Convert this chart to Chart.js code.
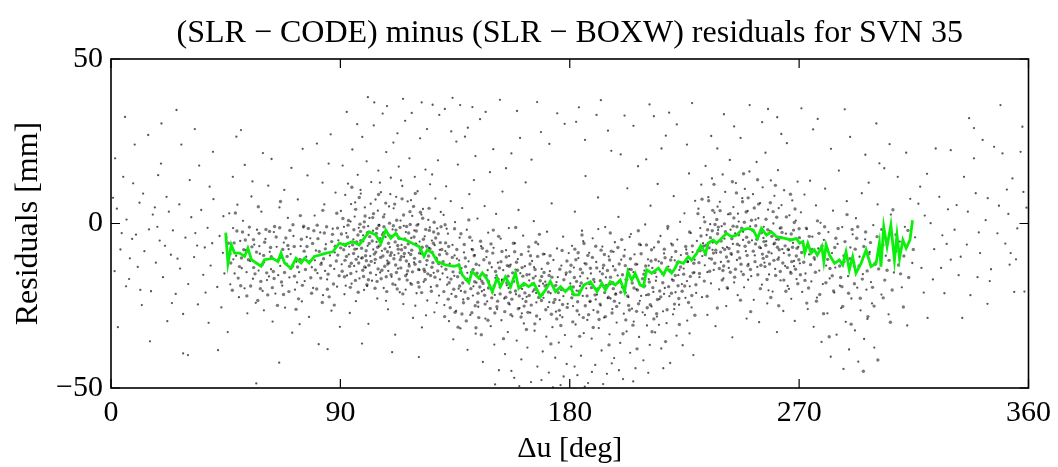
<!DOCTYPE html>
<html><head><meta charset="utf-8">
<script src="https://cdn.jsdelivr.net/npm/chart.js@4/dist/chart.umd.min.js"></script>
<style>html,body{margin:0;padding:0;background:#fff;overflow:hidden}#wrap{width:1058px;height:467px;position:relative}</style>
</head><body><div id="wrap"><canvas id="c" width="1058" height="467"></canvas></div>
<script>
// ---------- text ----------
const chartTitle = '(SLR \u2212 CODE) minus (SLR \u2212 BOXW) residuals for SVN 35';
const xAxisTitle = '\u0394u [deg]';
const yAxisTitle = 'Residuals [mm]';

// ---------- ticks ----------
const xTickValues = [0, 90, 180, 270, 360];
const xTickLabels = ['0', '90', '180', '270', '360'];
const yTickValues = [-50, 0, 50];
const yTickLabels = ['\u221250', '0', '50'];

// ---------- green mean line (deg, mm) ----------
const lineDeg = [45,45.9,47.2,48.5,50.5,52.4,53.7,55.1,57,58.9,60.2,63.5,65.5,66.7,68.1,70.6,72.6,74.6,75.9,77.8,79.8,81.8,84.4,87,89.6,91.5,94.8,97.4,101.3,103.9,105.9,107.8,109.8,111.7,113.1,115.7,118.2,120.9,122.8,124.1,126.1,128,131.3,134.6,136.5,137.8,140.4,141.7,144.3,145.7,147.6,149.6,151.5,152.8,154.8,156.8,158.7,160,162,163.9,165.9,167.2,168.5,170.5,172.4,174.4,176.4,178.3,180.3,181.6,183.5,185.5,188.1,190.7,192.6,194,195.9,197.9,199.8,201.5,202.8,204.3,205.7,207.6,208.9,210.2,212.2,214.8,216.8,218,220,221.3,222.6,224.6,226.5,227.8,229.8,231.4,233.3,234.3,236.3,237.6,239.6,241.5,243.5,245.5,247.4,250,252,253.7,255.2,257.2,259.1,261.1,264.4,267,268.9,270.2,271.5,272.2,273.4,274.7,276,277.1,278.9,279.7,280.6,281.9,283.9,285.8,287.1,288.4,289.7,291,292.3,294.3,296.3,298.2,300.2,301.5,302.1,303.2,304.5,306,307.4,308.4,309.4,310.7,312,313.5,314.5];
const lineRes = [-2.8,-12.1,-6.5,-9,-9,-10,-7.5,-11,-12,-13,-11,-10.6,-11.6,-9,-12,-13.6,-10.6,-12,-10.6,-12,-10,-9.6,-9,-8.6,-6,-6.5,-5.5,-6.5,-2.5,-3.5,-6,-2,-4.5,-3,-4.5,-5,-6,-7,-10,-8,-9,-11.6,-12.6,-13,-12.6,-15.6,-18,-14.6,-16.6,-15,-17,-20.7,-16.6,-19.2,-16.2,-19.2,-15,-19.7,-18.2,-19.2,-18.2,-20.2,-22.2,-20.2,-17.6,-20.7,-19.2,-20.7,-19.2,-21.7,-21.7,-18.7,-17.7,-20.7,-18.2,-20.2,-17.7,-18.7,-17.2,-20.7,-14.6,-17.2,-15.2,-18.7,-19.2,-14.1,-15.1,-13.6,-15.6,-13.6,-15.1,-13.6,-11.6,-12.1,-10.1,-11.1,-9.1,-6.8,-9.1,-6,-5,-6,-4.5,-3,-4,-3.5,-2,-1.5,-2,-4.5,-1.5,-3.5,-2.5,-4,-4.5,-5,-4.5,-6,-5.5,-9,-6,-9,-8,-9.6,-7,-11.6,-6.5,-9.6,-12.1,-11.1,-12.6,-8.6,-14.1,-10.1,-15.1,-12.1,-8,-13.1,-12.1,-6,-13.1,-1,-7,-0.5,-11.1,-3.5,-10.6,-5,-7.5,-5,1];

// ---------- scatter residuals, flat [deg, mm, deg, mm, ...] ----------
const dots000to045 = [5.5,32.4,25.7,34.5,19.8,30.4,14.6,26.9,32.9,28.7,27.6,24,1.6,19.8,4.8,14.2,8.7,12.2,18.5,14.7,21.8,8.1,38.7,11.2,30.9,13.2,12.6,9.1,2.3,4.5,6.1,1.2,9.8,-3.4,11.2,6.3,14.9,-1.8,16.4,2.7,19.1,-5.2,22.7,3.6,24.3,-2.1,26.8,5.8,29.2,-4.3,31.5,1.9,33.8,-6.7,35.4,4.1,37.9,-1.3,40.2,7.4,42.6,-3.8,44.1,2.2,3.7,-7.9,7.4,-10.6,10.5,-13.2,13.1,-8.4,17.6,-11.9,20.4,-16.3,23.5,-9.5,27.1,-13.7,30.3,-18.4,32.6,-10.2,36.2,-15.6,39.1,-12.8,41.7,-19.3,43.9,-8.9,1.4,-14.5,5.9,-19.1,8.3,-4.7,15.7,-20.6,21.2,-6.8,25.4,-21.4,28.3,-27.5,30.2,-40,28.3,-39.5,34.1,-24.6,38.3,-30.2,42,-38.5,12.1,-24.8,4.2,-2.9,18.2,-1.0,36.8,-7.3,40,21.8,2.7,-31.5,9.3,24.0,15.3,-35.8,22.1,-29.7,34.6,17.6,43.3,-25.5,11.5,-20.2,19.6,18.2,26.1,-10.7,33.1,-2.9,39.7,-6.0,17.2,4.9,7.1,-16.9,0.8,7.8,23.9,-24.2,37.1,-21.0,44.5,-15.2];
const dots045to090 = [49.2,26.4,51,28.4,59.6,21.4,47.8,14.2,57,-48.6,45.3,-4.2,45.9,-12.7,46.4,3.1,46.8,-18.5,47.3,-7.6,47.9,-1.4,48.5,-15.2,49.1,-9.8,49.6,5.7,50.2,-22.4,50.7,-5.3,51.3,-13.6,51.8,0.8,52.4,-19.7,52.9,-8.1,53.5,-27.3,54.0,-3.5,54.6,-11.4,55.1,8.2,55.7,-16.8,56.2,-6.4,56.8,-24.1,57.3,-1.9,57.9,-14.3,58.4,-9.2,59.0,3.6,59.5,-20.5,60.1,-11.8,60.6,-4.7,61.2,-17.2,61.7,11.5,62.3,-8.6,62.8,-13.9,63.4,-29.8,63.9,-2.6,64.5,-21.3,65.0,-7.1,65.6,-15.7,66.1,4.9,66.7,-10.4,67.2,-18.9,67.8,-5.8,68.3,-25.6,68.9,-12.2,69.4,1.7,70.0,-16.4,70.5,-9.3,71.1,-33.2,71.6,-3.8,72.2,-20.1,72.7,-11.6,73.3,7.3,73.8,-14.8,74.4,-6.9,74.9,-23.7,75.5,-1.2,76.0,-17.5,76.6,-10.1,77.1,14.6,77.7,-28.4,78.2,-4.5,78.8,-13.3,79.3,-19.6,79.9,2.4,80.4,-8.2,81.0,-15.1,81.5,-36.7,82.1,-2.7,82.6,-11.9,83.2,-21.8,83.7,5.8,84.3,-6.3,84.8,-17.0,85.4,18.2,85.9,-9.7,86.5,-26.5,87.0,-1.6,87.6,-13.8,88.1,9.4,88.7,-19.2,89.2,-5.1,89.8,-31.4,52.5,17.8,63.0,19.6,70.8,16.9,75.2,22.7,80.8,24.3,86.2,27.1,55.5,12.8,68.0,10.2,83.0,12.4,48.0,-10.9,53.2,-14.8,58.2,-6.9,62.0,-16.1,66.4,-12.9,69.7,-7.8,73.0,-17.9,76.8,-4.1,80.0,-11.2,84.0,-14.4,87.8,-8.8,60.0,-26.4,74.0,-30.6,85.0,-38.2,66.0,-42.3,45.8,-33.0];
const core045to090 = [46.7,-9.3,58.1,-3.0,49.9,-16.6,71.3,-12.9,64.2,-0.9,80.7,-19.9,53.9,-11.0,86.9,-3.3,75.8,-8.4,61.5,-21.7,68.6,-4.4,83.4,-10.7,47.6,-20.3,56.5,-15.3,77.4,-1.5,89.5,-15.9,62.6,-7.3,73.6,-22.9,51.6,-2.6,85.6,-22.3,66.9,-17.8,59.3,-12.5,79.1,-6.1,88.4,-11.4,54.8,-19.0,70.2,-2.1,82.3,-16.6,63.7,-14.6,48.3,-5.9,76.3,-14.0,57.6,-23.4,69.1,-10.0,84.6,-1.0,52.1,-8.0,74.7,-4.8,87.3,-18.4,60.8,-1.8,65.3,-24.9,81.2,-4.6,55.9,-4.9,72.0,-16.0,78.7,-21.2,50.4,-13.1,67.4,-7.9,84.1,-7.7,58.8,-17.6,62.9,-10.1,88.9,-1.4,46.1,-6.0,71.9,-7.0,80.2,-14.1,53.3,-22.0,75.1,-18.8,64.8,-4.1,86.1,-12.8,49.4,-2.3,69.8,-20.7,57.1,-8.7,82.9,-24.0,61.1,-15.0,77.9,-11.6,66.2,-1.3,73.2,-13.2,88.0,-6.9,54.3,-1.1,79.6,-2.2,59.9,-9.7,84.9,-20.0,68.1,-14.9,50.9,-18.9,76.9,-7.0,63.3,-19.5,71.4,-0.4,87.6,-24.8,56.0,-13.4,81.7,-8.5,65.8,-11.0,47.0,-12.0,74.2,-10.9,60.3,-5.7,85.2,-15.4,52.7,-5.0,78.4,-16.5,69.4,-6.7,83.7,-2.9,62.2,-2.4,72.6,-26.1,89.0,-9.6,55.3,-7.1,67.7,-21.6,80.9,-0.5,58.6,-19.8,75.6,-0.8,86.6,-5.5,64.0,-16.7,51.2,-10.5,70.5,-13.6,82.4,-12.4,48.8,3.2,57.8,5.1,66.5,6.7,74.3,2.4,83.1,4.0,88.6,3.1];
const dots090to130 = [90.2,3.8,90.5,-12.4,90.9,17.6,91.2,-6.2,91.6,-21.5,91.9,8.7,92.3,-2.9,92.6,-15.8,93.0,12.1,93.3,-9.4,93.7,-27.2,94.0,0.6,94.4,-18.3,94.7,22.5,95.1,-4.8,95.4,-12.9,95.8,6.4,96.1,-23.6,96.5,-7.7,96.8,14.8,97.2,-1.3,97.5,-16.7,97.9,10.2,98.2,-10.6,98.6,26.3,98.9,-3.6,99.3,-20.2,99.6,4.9,100.0,-13.4,100.3,18.9,100.7,-6.8,101.0,-30.5,101.4,1.7,101.7,-9.9,102.1,12.6,102.4,-17.4,102.8,-2.2,103.1,29.8,103.5,-12.0,103.8,7.3,104.2,-5.6,104.5,-22.8,104.9,16.1,105.2,-0.4,105.6,-14.9,105.9,9.5,106.3,-8.3,106.6,33.4,107.0,-19.6,107.3,2.8,107.7,-4.1,108.0,21.7,108.4,-11.3,108.7,-26.1,109.1,5.2,109.4,-7.2,109.8,13.9,110.1,-16.2,110.5,-1.8,110.8,24.6,111.2,-9.6,111.5,-33.8,111.9,8.1,112.2,-3.3,112.6,-13.7,112.9,17.3,113.3,-20.9,113.6,0.9,114.0,-6.5,114.3,11.4,114.7,-24.5,115.0,-10.1,115.4,31.2,115.7,-2.6,116.1,-15.4,116.4,6.7,116.8,-8.9,117.1,19.8,117.5,-18.1,117.8,-4.4,118.2,2.3,118.5,-28.7,118.9,-11.8,119.2,14.2,119.6,-6.1,119.9,-21.2,120.3,9.8,120.6,-0.2,121.0,-14.1,121.3,25.9,121.7,-9.2,122.0,-31.6,122.4,4.4,122.7,-17.7,123.1,-3.9,123.4,16.4,123.8,-12.6,124.1,-23.4,124.5,1.1,124.8,-7.4,125.2,11.9,125.5,-19.3,125.9,-5.2,126.2,36.1,126.6,-15.0,126.9,-27.0,127.3,7.6,127.6,-10.4,128.0,-1.5,128.3,19.2,128.7,-21.9,129.0,-8.0,129.4,3.5,129.7,-13.1,91.4,-1.0,93.5,-7.0,95.6,2.1,97.0,-10.1,99.0,-5.4,100.9,-0.8,102.9,-7.9,104.7,3.9,106.8,-2.7,108.8,-14.4,110.9,4.6,112.8,-9.1,114.9,-0.7,116.9,-12.3,119.0,-2.1,121.1,-5.5,123.0,-9.8,125.1,-1.2,127.0,-6.6,129.1,-17.0,92.1,-18.9,96.3,-14.6,100.5,-19.0,104.0,-15.6,107.9,-23.5,111.6,-18.7,115.6,-20.1,119.4,-25.0,123.6,-27.9,127.8,-24.1,94.2,5.9,98.0,9.1,101.9,6.0,105.5,12.4,109.6,8.9,113.8,13.1,117.7,7.1,121.8,2.7,126.0,14.9,98.5,-36.5,110.3,-39.1,120.8,-40.6,103.3,36.8,118.0,33.6,124.0,28.7,112.4,27.4,96.6,30.2,92.5,33.9,100.8,38.4,108.3,35.7,114.6,37.9,121.9,36.8,128.8,33.0];
const core090to130 = [92.8,-4.1,107.4,-13.0,99.7,2.3,121.6,-8.2,113.1,-16.9,95.2,-9.1,126.8,0.4,103.6,-19.7,118.7,5.2,90.7,-14.5,110.2,-3.9,124.3,-15.3,97.7,-0.2,115.9,-11.4,105.0,8.8,128.9,-9.5,93.9,-19.4,119.8,-2.3,101.2,-12.7,112.1,1.0,125.7,-20.6,96.0,4.3,108.5,-8.6,122.8,-13.9,91.3,-8.0,116.6,-6.2,104.3,-1.5,127.4,-4.4,99.1,-16.1,114.5,-21.4,94.5,11.0,111.0,-10.7,120.5,-17.9,102.5,-5.3,129.5,-1.0,106.0,-16.8,117.3,3.6,98.3,-7.5,123.9,-6.9,109.3,0.1,91.8,-11.2,113.7,-13.5,126.3,-11.9,100.6,-2.8,119.1,-10.6,95.9,-17.3,107.8,6.2,121.9,-21.0,103.0,3.0,115.3,-4.7,128.2,-14.4,93.2,0.9,110.6,-18.4,97.2,-12.0,124.8,4.6,105.8,-10.3,118.3,-14.7,90.4,-3.2,112.7,-7.8,101.8,-15.0,127.9,-18.9,94.8,-6.5,116.0,-0.9,108.9,-6.0,122.3,1.6,99.9,-9.8,114.2,7.5,125.2,-7.7,96.9,-3.5,111.7,-12.6,120.1,-0.5,103.9,-8.7,91.0,1.5,117.9,-18.5,106.5,-3.4,129.2,-5.8,98.8,-14.2,113.4,-1.2,123.3,-17.0,92.4,-10.0,109.9,-15.6,119.4,9.1,102.1,-11.5,126.6,-2.6,95.3,-1.9,115.1,-9.1,104.8,-13.8,121.2,-11.6,97.4,7.9,110.0,-8.9,128.6,-12.2,100.4,-18.6,116.8,-2.9,93.6,-13.0,107.1,-1.0,124.6,-9.9,112.3,-19.9,99.4,0.5,118.0,-8.1,105.3,-6.8,122.6,-4.8,90.1,-7.4,114.8,2.6,127.1,-16.3,101.5,-4.0,109.0,-11.9,120.7,-14.0,96.2,-10.9,111.3,5.9,125.9,-13.3,104.4,-17.6,117.0,-12.9,94.1,-15.2,108.2,-20.7,123.5,-1.8,98.0,-5.2,113.0,-4.5,129.8,-7.9,102.7,1.8,119.6,-6.4,106.3,-14.2,91.6,-16.2,115.6,-15.9,126.0,-8.7,100.1,-8.3,110.8,-0.7,121.4,3.4,97.0,-20.9,105.6,-4.6,117.6,-9.4,93.0,-0.5,112.0,-14.9,124.0,-11.2,103.3,-9.3,128.4,-3.1,99.5,-13.2,114.0,-8.0,108.0,-16.2,120.9,-19.3,95.7,-7.8,116.2,-17.2,106.9,2.0,125.4,-15.8,101.0,-17.1,118.9,-4.1,92.0,-6.7,111.5,-5.6,122.1,-7.2,104.1,-3.0,127.7,-10.8,98.6,-10.4,113.9,-10.1,109.6,-9.7,97.9,-2.4,103.7,-10.9,107.5,-7.7,115.4,-7.3,119.3,-12.4,111.8,-2.0,105.1,-0.6,101.3,-6.1,123.1,-14.6,94.3,-12.1,117.4,-0.3,126.5,-6.0,109.1,-3.6,113.5,-11.0,99.2,-1.1,121.0,-9.0,96.4,-5.6,108.6,-12.3,104.6,-7.2,116.4,-14.4,100.2,-11.3,112.5,-6.7,124.9,-2.1,106.7,-9.9];
const dots130to180 = [130.1,-15.2,130.5,2.6,130.8,-24.8,131.2,-8.4,131.5,11.3,131.9,-18.6,132.2,-3.1,132.6,-29.7,132.9,-12.2,133.3,6.8,133.6,-21.4,134.0,-6.5,134.3,-35.2,134.7,-15.9,135.0,0.4,135.4,-26.6,135.7,-10.7,136.1,17.9,136.4,-19.8,136.8,-4.3,137.1,-31.9,137.5,-13.6,137.8,4.7,138.2,-23.1,138.5,-8.8,138.9,26.4,139.2,-17.2,139.6,-1.9,139.9,-38.4,140.3,-11.5,140.6,8.9,141.0,-27.8,141.3,-14.8,141.7,-5.2,142.0,-21.9,142.4,13.2,142.7,-9.6,143.1,-33.5,143.4,-18.0,143.8,1.5,144.1,-25.3,144.5,-12.7,144.8,31.7,145.2,-6.9,145.5,-20.6,145.9,-42.1,146.2,-15.4,146.6,5.3,146.9,-28.9,147.3,-10.2,147.6,-23.7,148.0,-2.8,148.3,-17.6,148.7,15.6,149.0,-31.2,149.4,-13.3,149.7,-21.0,150.1,-7.4,150.4,-36.8,150.8,-16.5,151.1,2.9,151.5,-26.0,151.8,-11.9,152.2,-44.6,152.5,-19.4,152.9,-4.6,153.2,-29.4,153.6,9.7,153.9,-14.2,154.3,-22.8,154.6,-39.7,155.0,-8.1,155.3,-18.8,155.7,-33.0,156.1,-1.4,156.4,-24.6,156.8,-12.5,157.1,21.3,157.5,-28.2,157.8,-16.8,158.2,-46.9,158.5,-6.0,158.9,-21.5,159.2,-35.6,159.6,-10.8,159.9,4.1,160.3,-25.7,160.6,-15.1,161.0,-41.3,161.3,-19.9,161.7,-3.7,162.0,-30.4,162.4,-13.0,162.7,12.5,163.1,-22.3,163.4,-37.7,163.8,-8.5,164.1,-17.3,164.5,-27.1,164.8,-48.2,165.2,-11.4,165.5,-20.7,165.9,0.7,166.2,-32.6,166.6,-16.0,166.9,-24.0,167.3,-43.5,167.6,-6.3,168.0,-19.0,168.3,-29.1,168.7,27.8,169.0,-13.8,169.4,-38.9,169.7,-22.6,170.1,-9.3,170.4,-17.7,170.8,-34.4,171.1,-2.5,171.5,-25.4,171.8,-45.3,172.2,-14.5,172.5,-21.2,172.9,6.1,173.2,-31.5,173.6,-11.1,173.9,-19.5,174.3,-40.8,174.6,-26.8,175.0,-7.6,175.3,-16.3,175.7,-36.2,176.0,-23.3,176.4,-49.1,176.7,-12.8,177.1,-28.5,177.4,-4.0,177.8,-20.3,178.1,-33.9,178.5,-15.6,178.8,-42.7,179.2,-24.4,179.6,-9.0,131.0,34.8,135.5,24.9,140.0,29.1,147.0,33.9,150.0,22.6,155.0,16.8,160.5,26.0,165.0,19.4,172.0,24.2,178.0,30.3,143.0,20.5,137.0,36.0,133.5,28.0,132.0,-16.4,134.8,-9.7,137.3,-20.5,139.8,-15.0,142.2,-19.1,144.9,-16.9,147.8,-14.2,150.6,-21.7,153.4,-17.1,156.0,-19.6,158.7,-14.0,161.5,-22.9,164.2,-15.5,166.8,-21.1,169.5,-18.3,172.0,-23.9,174.8,-17.8,177.5,-22.1,131.7,-1.6,136.6,-11.2,141.5,-7.8,146.4,-20.2,151.2,-15.8,156.2,-9.9,161.2,-27.3,166.0,-13.3,171.0,-18.6,176.2,-27.9,134.0,38.2,141.8,35.4,152.6,37.6,159.3,34.2,167.2,36.9,175.1,33.5,160.2,-49.4,168.9,-47.6,177.6,-46.5,157.1,-44.8,150.7,-48.9,173.4,-49.8];
const core130to180 = [131.4,-13.9,146.8,-24.5,138.6,-6.4,161.9,-18.7,153.0,-11.6,135.3,-22.2,167.0,-28.1,143.6,-15.1,158.4,-8.6,130.6,-20.7,150.3,-19.0,164.4,-12.3,137.7,-27.5,155.8,-16.0,145.0,-5.4,169.2,-21.6,133.9,-10.3,159.8,-25.9,141.2,-19.8,152.1,-3.9,165.7,-16.6,136.0,-16.2,148.5,-12.0,162.8,-23.7,131.3,-5.9,156.6,-20.9,144.3,-28.6,167.4,-10.0,139.1,-13.1,154.5,-26.8,134.8,-1.6,150.9,-14.6,160.5,-19.4,142.5,-9.8,169.9,-14.9,146.0,-18.2,157.3,-23.0,138.3,-24.1,163.9,-7.1,132.7,-18.0,149.4,-22.6,166.1,-20.1,140.8,-4.2,155.1,-10.2,136.5,-12.6,161.3,-13.4,147.9,-29.4,170.6,-26.2,144.0,-21.2,158.0,-17.6,133.1,-25.6,152.7,-21.4,164.9,-24.8,139.7,-16.9,149.8,-9.0,168.4,-17.4,142.9,-25.0,156.3,-13.0,135.7,-7.9,160.9,-28.4,146.3,-11.0,153.7,-17.3,166.7,-5.7,130.9,-28.3,151.4,-25.3,163.2,-15.6,140.1,-22.8,157.9,-6.0,145.5,-17.5,169.6,-9.3,134.2,-14.7,148.1,-19.6,162.4,-21.1,137.3,-3.1,154.9,-22.4,143.3,-12.4,159.1,-11.8,132.3,-23.0,150.6,-27.2,165.3,-18.4,141.9,-8.0,156.9,-27.7,136.8,-19.0,161.6,-16.0,147.2,-15.9,168.9,-23.4,139.4,-29.6,153.4,-8.5,133.4,-16.9,158.7,-20.5,145.7,-7.5,163.6,-27.0,131.8,-9.2,151.9,-16.9,166.4,-14.0,143.9,-23.9,155.5,-12.8,138.0,-18.1,160.2,-22.0,148.8,-25.8,170.3,-19.0,135.0,-27.0,157.6,-15.0,142.1,-14.0,164.6,-9.8,146.6,-21.8,152.4,-13.5,139.0,-10.5,162.1,-25.1,134.5,-20.0,149.1,-6.2,167.8,-22.5,144.7,-19.3,156.0,-24.2,137.0,-14.9,159.5,-14.2,171.4,-12.1,174.2,-23.1,177.7,-17.1,172.8,-27.6,176.1,-13.9,179.0,-25.5,173.0,-16.3,175.5,-21.0,178.9,-11.4,171.6,-20.8,174.9,-29.0,177.2,-24.6,179.9,-19.6,172.3,-9.8,176.8,-20.1,173.7,-24.0,178.6,-15.0,175.9,-26.4,171.9,-15.8,177.0,-8.2,174.5,-18.8,131.1,-0.4,140.4,1.1,150.0,-2.0,158.8,-1.2,168.1,-3.3,136.2,-31.5,145.3,-33.8,154.0,-35.0,163.0,-32.2,172.6,-36.6,141.6,-27.1,166.3,-30.5,130.3,-11.6,138.9,-20.8,147.5,-8.4,155.3,-18.0,164.1,-21.9,132.5,-7.0,142.7,-17.7,151.7,-23.6,161.0,-9.4,169.0,-16.1,176.5,-31.0,143.2,-31.7];
const dots180to230 = [180.2,-18.2,180.6,-37.4,180.9,-6.8,181.3,-25.1,181.6,-13.4,182.0,3.6,182.3,-30.7,182.7,-20.4,183.0,-46.1,183.4,-10.5,183.7,-27.7,184.1,-16.1,184.4,-40.2,184.8,-2.2,185.1,-22.0,185.5,-33.3,185.8,-12.1,186.2,14.4,186.5,-19.7,186.9,-29.3,187.2,-48.5,187.6,-8.9,187.9,-23.8,188.3,-15.2,188.6,-35.0,189.0,-4.5,189.3,-26.3,189.7,-17.8,190.0,-43.0,190.4,-11.7,190.7,-21.6,191.1,7.9,191.4,-31.8,191.8,-14.6,192.1,-24.9,192.5,-38.6,192.8,-7.0,193.2,-19.2,193.5,-28.6,193.9,-1.1,194.2,-16.4,194.6,-45.7,194.9,-22.7,195.3,-10.0,195.6,-33.7,196.0,-18.5,196.3,22.1,196.7,-26.0,197.0,-13.0,197.4,-40.9,197.7,-5.7,198.1,-21.3,198.4,-30.1,198.8,-15.8,199.1,2.0,199.5,-24.2,199.8,-36.3,200.2,-11.0,200.5,-19.4,200.9,-47.3,201.2,-27.4,201.6,-8.0,201.9,-17.1,202.3,-32.8,202.6,10.7,203.0,-22.4,203.3,-13.9,203.7,-39.3,204.0,-3.2,204.4,-25.9,204.7,-16.6,205.1,-29.8,205.4,-9.4,205.8,-44.0,206.1,-20.0,206.5,-12.4,206.8,17.4,207.2,-34.5,207.5,-23.5,207.9,-6.6,208.2,-18.8,208.6,-27.0,208.9,-41.6,209.3,-14.3,209.6,-0.3,210.0,-21.8,210.3,-31.0,210.7,-10.9,211.0,-16.9,211.4,-36.9,211.7,5.4,212.1,-25.2,212.4,-13.5,212.8,-20.8,213.1,-7.3,213.5,-33.1,213.8,-17.4,214.2,-28.3,214.5,12.0,214.9,-11.5,215.2,-23.0,215.6,-3.8,215.9,-38.0,216.3,-15.3,216.6,-26.7,217.0,-9.1,217.3,-19.6,217.7,26.7,218.0,-30.3,218.4,-1.6,218.7,-13.1,219.1,-22.1,219.4,-42.4,219.8,-6.1,220.1,-17.0,220.5,-27.6,220.8,8.3,221.2,-11.2,221.5,-20.9,221.9,-34.1,222.2,-4.9,222.6,-15.7,222.9,-24.7,223.3,0.5,223.6,-9.6,224.0,-18.4,224.3,-37.0,224.7,-13.7,225.0,3.1,225.4,-22.6,225.7,-7.9,226.1,-29.5,226.4,-11.6,226.8,15.2,227.1,-19.1,227.5,-2.9,227.8,-25.5,228.2,-8.7,228.5,-40.0,228.9,-14.9,229.2,6.9,229.6,-21.1,229.9,-5.3,182.5,30.9,186.0,25.4,190.5,33.0,195.0,28.2,200.0,21.0,205.0,29.7,210.0,19.5,216.0,22.8,222.0,30.1,226.0,24.0,213.0,32.6,181.0,-21.5,184.0,-19.0,187.0,-16.7,190.2,-23.1,193.0,-13.6,196.0,-22.8,199.0,-18.0,202.0,-21.0,205.0,-14.8,208.0,-22.0,211.0,-12.8,214.0,-16.2,217.0,-21.4,220.0,-10.2,223.0,-14.1,226.0,-17.5,229.0,-11.0,185.3,-5.4,191.2,-1.7,197.2,-8.6,203.5,-4.1,209.5,-27.8,215.0,-30.8,221.0,-26.0,227.0,-33.4,183.6,35.3,192.2,37.5,201.5,32.8,211.3,36.2,219.0,33.7,228.0,36.6,185.9,-49.6,193.1,-48.8,199.3,-44.6,204.9,-48.0,210.8,-45.4,216.7,-44.0,181.9,-43.5,188.7,-45.1,196.5,-42.5];
const core180to230 = [181.8,-16.4,196.6,-27.2,188.9,-10.3,212.6,-19.5,203.1,-24.9,185.6,-6.1,219.3,-14.2,193.7,-21.0,208.0,-9.2,182.9,-26.5,200.7,-15.6,224.1,-20.6,190.9,-19.9,214.8,-5.6,186.8,-22.0,205.9,-12.4,227.3,-16.1,198.9,-7.3,180.5,-12.7,210.4,-25.6,194.8,-14.3,221.6,-8.5,183.7,-20.6,202.0,-29.3,216.5,-18.0,189.4,-17.0,206.6,-20.2,228.7,-12.1,197.5,-23.6,181.2,-29.9,211.9,-11.4,192.3,-8.1,222.8,-22.8,185.0,-15.0,204.5,-18.1,218.2,-26.2,195.6,-11.1,209.1,-15.4,187.4,-27.7,225.9,-9.1,200.0,-20.9,183.3,-8.9,215.7,-22.3,191.9,-24.5,207.4,-6.3,229.5,-18.6,196.0,-16.3,180.8,-22.6,213.4,-14.9,188.1,-13.6,220.6,-17.3,203.8,-10.7,194.0,-28.3,210.9,-21.6,184.5,-18.1,226.6,-24.0,199.4,-12.3,217.4,-10.4,190.2,-6.9,206.2,-26.7,182.4,-11.0,223.5,-13.2,197.1,-19.8,212.1,-8.0,186.1,-25.0,201.3,-9.9,219.9,-21.2,192.8,-15.3,208.6,-16.8,228.1,-6.8,195.2,-22.4,181.4,-19.3,214.1,-27.4,189.9,-21.7,204.1,-14.0,222.2,-11.9,198.4,-25.2,211.2,-17.8,184.2,-13.9,225.1,-19.0,193.3,-12.7,216.9,-15.1,187.1,-9.7,202.7,-22.0,227.9,-21.9,196.3,-8.4,209.8,-12.9,183.1,-23.8,220.3,-6.5,191.0,-26.9,205.2,-19.6,214.4,-23.1,199.7,-17.5,186.4,-12.3,224.7,-15.4,194.3,-18.8,207.0,-24.4,182.0,-7.8,218.8,-19.2,200.4,-4.9,213.0,-29.0,188.5,-19.5,226.2,-11.6,197.8,-14.1,210.1,-6.5,185.3,-28.6,221.1,-24.5,192.0,-17.4,203.4,-26.3,216.0,-12.0,184.8,-3.5,195.9,-2.9,206.9,-2.2,218.5,-0.9,227.0,-2.6,189.2,-31.6,200.9,-33.5,212.3,-32.9,223.0,-30.7,183.9,-34.3,195.4,-36.9,206.4,-38.1,217.6,-35.9,229.1,-27.9,191.5,-29.2,204.8,-30.9,180.1,-14.7,187.8,-18.3,193.6,-9.4,198.0,-21.5,201.8,-12.8,205.5,-16.0,209.4,-19.0,213.7,-11.0,217.1,-7.8,221.4,-15.8,225.5,-7.0,228.4,-15.0,182.7,-17.6,190.6,-13.5,202.4,-17.0,215.3,-20.5,222.5,-18.9,188.0,-23.6,196.9,-18.0,211.6,-24.7,219.6,-11.1];
const dots230to270 = [230.2,-8.2,230.5,4.5,230.9,-16.3,231.2,-1.4,231.6,11.8,231.9,-22.4,232.3,-6.0,232.6,1.9,233.0,-12.7,233.3,17.5,233.7,-3.5,234.0,-27.8,234.4,8.0,234.7,-10.6,235.1,-0.2,235.4,-18.2,235.8,13.7,236.1,-5.8,236.5,-14.1,236.8,3.3,237.2,-31.2,237.5,-8.9,237.9,22.8,238.2,-2.0,238.6,-20.0,238.9,6.6,239.3,-11.7,239.6,-0.8,240.0,14.9,240.3,-16.7,240.7,-4.6,241.0,9.6,241.4,-25.1,241.7,-7.2,242.1,2.8,242.4,-13.5,242.8,19.3,243.1,-1.9,243.5,-9.5,243.8,-34.6,244.2,5.0,244.5,-17.9,244.9,-3.0,245.2,12.3,245.6,-11.1,245.9,-21.8,246.3,0.6,246.6,-6.7,247.0,26.0,247.3,-14.6,247.7,7.7,248.0,-2.5,248.4,-19.4,248.7,10.5,249.1,-8.4,249.4,-28.9,249.8,3.8,250.1,-12.3,250.5,15.8,250.8,-0.9,251.2,-16.0,251.5,-5.1,251.9,8.9,252.2,-23.2,252.6,-9.7,252.9,1.2,253.3,18.7,253.6,-13.2,254.0,-3.9,254.3,-30.0,254.7,6.2,255.0,-7.5,255.4,-18.6,255.7,11.0,256.1,-1.0,256.4,-11.9,256.8,21.5,257.1,-5.4,257.5,-24.3,257.8,4.2,258.2,-15.5,258.5,-2.3,258.9,13.1,259.2,-9.1,259.6,-20.7,259.9,0.0,260.3,8.4,260.6,-13.8,261.0,-4.9,261.3,-33.0,261.7,16.2,262.0,-10.3,262.4,-1.5,262.7,-17.3,263.1,5.6,263.4,-7.8,263.8,-26.6,264.1,10.1,264.5,-12.9,264.8,-3.1,265.2,24.4,265.5,-19.0,265.9,-8.1,266.2,2.5,266.6,-14.7,266.9,-22.9,267.3,7.0,267.6,-5.9,268.0,-11.4,268.3,-29.6,268.7,0.9,269.0,-16.9,269.4,12.7,269.7,-7.1,232.0,-9.9,236.0,-8.0,240.0,-7.4,244.0,-6.2,248.0,-5.0,252.0,-2.2,256.0,-4.4,260.0,-6.3,264.0,-9.0,268.0,-13.0,234.0,-14.8,242.0,-19.8,250.0,-17.1,258.0,-20.3,266.0,-19.9,238.0,5.1,246.0,3.0,254.0,1.6,262.0,4.7,244.5,29.5,255.5,30.8,235.5,26.6,263.0,27.2,257.8,34.8,240.5,33.2,250.6,36.0,261.4,32.3];
const core230to270 = [231.5,-3.8,247.2,-12.4,239.0,3.9,262.2,-8.0,253.0,-0.7,234.9,-14.5,267.8,-2.0,243.3,-9.1,258.7,6.3,230.7,-11.9,250.3,-5.7,265.4,-13.4,237.7,1.2,255.9,-10.6,245.4,9.3,269.2,-7.5,233.5,-6.6,260.8,-15.8,241.1,-2.5,252.4,4.7,266.1,-9.6,236.4,-9.0,248.5,0.4,263.0,-4.3,230.3,3.0,256.6,-13.1,244.7,-16.3,268.4,4.4,239.4,-5.3,254.5,-7.2,234.5,6.9,250.9,-14.0,261.2,1.9,242.2,-11.5,269.9,-11.0,246.3,-3.4,257.4,-17.0,238.3,-1.1,264.5,-6.8,232.8,-17.5,249.2,3.5,266.8,-15.1,240.8,-7.9,255.2,-2.8,236.9,-12.1,261.7,-10.9,247.8,6.6,270.0,-1.6,244.1,-0.8,258.1,-8.7,233.0,0.5,252.7,-11.6,265.0,2.0,240.1,-14.3,249.6,-9.7,268.9,-9.9,235.2,-4.3,259.3,-3.9,245.8,-6.3,263.6,-12.0,231.9,7.4,253.8,-15.6,242.9,3.0,257.0,1.3,237.3,-8.1,262.9,-1.3,248.1,-15.5,266.4,-5.0,234.1,-1.9,254.1,5.9,241.5,-10.2,260.4,-6.0,230.9,-15.2,251.6,-2.0,267.1,-11.6,238.7,-13.7,256.2,-5.5,246.7,-10.5,264.0,-17.2,233.2,-9.4,250.0,7.8,243.6,-4.6,258.4,-12.3,236.1,4.0,261.5,-7.2,245.0,-13.9,268.1,0.3,239.8,-17.2,255.6,-9.3,232.4,-6.9,252.0,-8.4,265.7,-7.8,242.5,-7.6,259.8,3.6,247.5,-1.4,235.6,-10.8,262.6,-14.6,249.9,-12.8,238.0,-3.1,257.7,-1.9,244.4,1.7,266.9,-3.2,231.2,-8.3,253.4,-4.8,240.4,-12.9,260.1,-11.2,246.0,-8.6,268.6,-13.9,234.7,-7.4,256.9,-6.6,243.0,-14.8,263.3,-2.7,237.0,-0.3,251.3,1.0,248.8,-6.9,241.8,-19.5,254.8,-19.8,264.8,-20.6,233.9,-22.1,247.0,-23.3,258.9,-22.5,269.5,-18.3,237.9,-25.7,251.0,-26.8,262.0,-25.0,243.8,12.7,253.7,13.3,260.7,11.6,236.6,11.9,248.2,15.1,266.6,8.9,239.2,-8.7,245.6,-1.0,252.9,-6.2,257.3,-10.0,261.9,-4.8,267.4,-7.2,249.4,-4.2,255.0,-12.7,240.7,-0.1,235.9,-2.2];
const dots270to315 = [270.3,-12.1,270.7,3.4,271.2,-20.8,271.6,-6.3,272.1,8.8,272.5,-15.2,273.0,-1.7,273.4,-26.0,273.9,-9.4,274.3,13.0,274.8,-17.6,275.2,-4.0,275.7,-31.4,276.1,-11.0,276.6,5.5,277.0,-22.5,277.5,-7.6,277.9,-14.3,278.4,0.2,278.8,-36.0,279.3,-18.4,279.7,-5.0,280.2,10.6,280.6,-12.8,281.1,-27.3,281.5,-2.6,282.0,-16.7,282.4,-40.5,282.9,-9.0,283.3,3.9,283.8,-21.0,284.2,-13.4,284.7,-33.8,285.1,-6.2,285.6,16.1,286.0,-18.9,286.5,-25.7,286.9,-1.1,287.4,-44.2,287.8,-11.6,288.3,-29.9,288.7,6.8,289.2,-16.0,289.6,-38.3,290.1,-7.3,290.5,-22.8,291.0,-3.3,291.4,-13.0,291.9,-32.5,292.3,1.6,292.8,-19.5,293.2,-42.0,293.7,-10.1,294.1,-26.4,294.6,9.2,295.0,-15.4,295.5,-35.1,295.9,-4.8,296.4,-20.1,296.8,-29.0,297.3,12.4,297.7,-8.6,298.2,-17.8,298.6,-24.3,299.1,-0.5,299.5,-37.7,300.0,-12.5,300.8,5.8,301.5,18.3,302.3,-21.6,303.4,16.8,304.0,-9.8,305.1,-27.6,306.0,2.7,307.2,-14.9,308.7,14.2,309.5,-5.5,310.3,-19.4,311.5,-1.0,312.4,-31.0,313.6,7.5,314.4,-12.0,270.9,35.0,275.5,28.6,282.5,22.7,290.0,26.3,296.0,20.9,305.5,24.1,312.0,21.5,277.3,31.8,287.9,34.7,300.3,30.4];
const core270to315 = [271.0,-8.8,286.3,-16.4,277.8,-3.0,299.8,-12.1,292.0,-7.8,273.7,-19.6,305.3,-11.2,282.1,-13.7,296.1,-2.6,270.5,-15.6,289.4,-21.2,302.9,-6.5,275.9,-10.4,294.8,-16.9,284.4,-4.5,309.8,-15.3,272.8,-1.4,298.8,-19.4,280.5,-18.0,290.8,-1.8,306.5,-20.2,276.4,-14.8,287.6,-9.8,301.2,-13.8,270.1,-4.3,295.4,-7.0,283.5,-20.5,308.0,-3.4,279.0,-6.8,293.5,-12.9,274.5,-12.5,303.6,-17.2,285.3,-1.5,297.4,-9.2,281.2,-10.9,311.1,-9.9,272.3,-17.3,291.7,-18.3,300.6,-4.0,278.1,-21.6,288.0,-5.5,304.5,-14.2,275.1,-7.9,296.7,-14.4,285.9,-12.9,313.0,-16.4,280.0,-1.0,294.0,-22.7,307.9,-8.4,271.8,-11.8,289.9,-10.7,299.4,-25.1,283.0,-15.9,302.4,-1.8,276.8,-23.6,292.6,-4.5,310.9,-25.4,279.6,-27.4,297.0,-28.3,287.1,-25.2,305.8,-30.0,273.0,-24.2,290.4,-30.6,281.8,-34.4,300.9,-41.5,295.2,-44.9,284.0,-7.3,298.0,-5.8,303.0,-22.6,277.2,0.8,288.8,2.7,293.0,-1.0,306.8,4.2,274.0,-3.9,286.8,-19.2,309.0,-12.6,312.7,-2.1,314.8,-7.9];
const dots315to360 = [315.5,-4.2,316.8,6.0,318.0,-13.5,319.3,2.4,320.4,-28.7,321.6,0.1,323.0,-7.8,323.6,22.8,325.0,8.1,326.2,-3.6,327.0,-21.2,328.4,4.3,329.5,-11.0,329.5,22.3,331.0,-1.9,332.6,-15.7,334.0,-28.7,334.7,14.2,335.8,-6.4,336.7,32.0,337.2,-21.8,338.6,19.8,338.6,29.0,339.3,9.2,340.5,-2.7,341.0,-9.0,342.0,25.4,343.2,1.0,344.0,7.7,345.3,-13.9,346.5,23.3,347.8,-3.0,349.0,36.0,349.8,21.3,350.9,-6.1,352.1,2.9,353.0,-9.0,353.7,13.7,354.4,-20.8,355.6,-1.5,356.9,21.8,357.6,29.4,358.4,-20.7,359.2,4.8,317.5,11.2,322.5,-17.0,331.8,5.6,344.8,-17.5,351.5,10.3,320.2,15.1,327.9,-6.2,336.2,3.6,343.9,-24.4,352.6,-12.5,358.0,9.6,325.7,-13.5,333.4,-10.1,348.4,5.4,355.1,-10.9,340.0,-16.3,318.9,-21.0];

// ---------- build datasets ----------
function pairs(flat){ const out=[]; for(let i=0;i<flat.length;i+=2) out.push({x:flat[i],y:flat[i+1]}); return out; }
const sparsePoints = [dots000to045,dots045to090,dots090to130,dots130to180,dots180to230,dots230to270,dots270to315,dots315to360].flatMap(pairs);
const corePoints = [core045to090,core090to130,core130to180,core180to230,core230to270,core270to315].flatMap(pairs);
const linePoints = lineDeg.map((d,i)=>({x:d,y:lineRes[i]}));

const SERIF = '"Liberation Serif","Times New Roman",serif';

const framePlugin = {
  id:'frame',
  afterDatasetsDraw(chart){
    const {ctx, chartArea:a, scales:{x,y}} = chart;
    ctx.save();
    ctx.strokeStyle='#000';
    ctx.lineWidth=1.6;
    ctx.strokeRect(a.left, a.top, a.right-a.left, a.bottom-a.top);
    ctx.lineWidth=1.2;
    const L=9;
    ctx.beginPath();
    xTickValues.forEach(v=>{const px=x.getPixelForValue(v); ctx.moveTo(px,a.bottom); ctx.lineTo(px,a.bottom-L); ctx.moveTo(px,a.top); ctx.lineTo(px,a.top+L);});
    yTickValues.forEach(v=>{const py=y.getPixelForValue(v); ctx.moveTo(a.left,py); ctx.lineTo(a.left+L,py); ctx.moveTo(a.right,py); ctx.lineTo(a.right-L,py);});
    ctx.stroke();
    ctx.restore();
  }
};

new Chart(document.getElementById('c'), {
  type:'scatter',
  data:{ datasets:[
    { label:'mean', data:linePoints, showLine:true, borderColor:'rgb(10,240,10)', borderWidth:2.8, pointRadius:0, tension:0, order:0 },
    { label:'residuals', data:sparsePoints, showLine:false, pointRadius:1.15, pointBorderWidth:0, backgroundColor:'rgba(0,0,0,0.66)', borderColor:'rgba(0,0,0,0)', order:1 },
    { label:'residuals core', data:corePoints, showLine:false, pointRadius:1.7, pointBorderWidth:0, backgroundColor:'rgba(0,0,0,0.52)', borderColor:'rgba(0,0,0,0)', order:2 }
  ]},
  options:{
    responsive:false, animation:false, events:[],
    layout:{ padding:{ left:0, right:29, top:0, bottom:0 } },
    plugins:{
      legend:{display:false}, tooltip:{enabled:false},
      title:{ display:true, text:chartTitle, fullSize:false, color:'#000',
        font:{family:SERIF, size:32, weight:'normal'}, padding:{top:14, bottom:6.6} }
    },
    scales:{
      x:{ type:'linear', min:0, max:360,
        afterBuildTicks(s){ s.ticks = xTickValues.map(v=>({value:v})); },
        afterFit(s){ s.height = 79; },
        grid:{display:false, drawTicks:false}, border:{display:false},
        ticks:{ color:'#000', font:{family:SERIF, size:30}, padding:7, maxRotation:0, autoSkip:false,
          callback:(v)=>{ const i=xTickValues.indexOf(v); return i<0?'':xTickLabels[i]; } },
        title:{ display:true, text:xAxisTitle, color:'#000', font:{family:SERIF, size:30}, padding:{top:0,bottom:0} }
      },
      y:{ type:'linear', min:-50, max:50,
        afterBuildTicks(s){ s.ticks = yTickValues.map(v=>({value:v})); },
        afterFit(s){ s.width = 111; },
        grid:{display:false, drawTicks:false}, border:{display:false},
        ticks:{ color:'#000', font:{family:SERIF, size:30}, padding:8, autoSkip:false,
          callback:(v)=>{ const i=yTickValues.indexOf(v); return i<0?'':yTickLabels[i]; } },
        title:{ display:true, text:yAxisTitle, color:'#000', font:{family:SERIF, size:32}, padding:{top:9,bottom:0} }
      }
    }
  },
  plugins:[framePlugin]
});
</script>
</body></html>
